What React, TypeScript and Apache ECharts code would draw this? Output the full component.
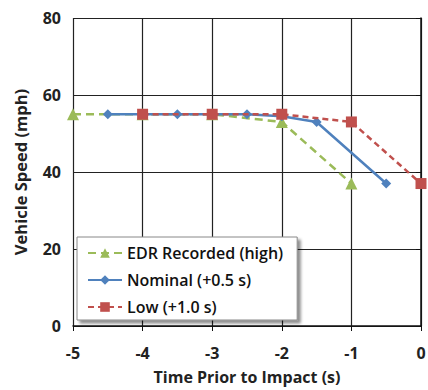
import React, { useEffect, useRef } from "react";
import * as echarts from "echarts";

const edrX = [-5, -4, -3, -2, -1];
const edrY = [55, 55, 55, 53, 37];
const nomX = [-4.5, -4, -3.5, -3, -2.5, -2, -1.5, -0.5];
const nomY = [55, 55, 55, 55, 55, 54.5, 53, 37];
const lowX = [-4, -3, -2, -1, 0];
const lowY = [55, 55, 55, 53, 37];
const xTicks = [-5, -4, -3, -2, -1, 0];
const yTicks = [0, 20, 40, 60, 80];

const zip = (xs: number[], ys: number[]) => xs.map((x, i) => [x, ys[i]]);

export default function App() {
  const ref = useRef<HTMLDivElement>(null);
  useEffect(() => {
    const chart = echarts.init(ref.current!, null, { renderer: "svg" });
    const font = "Open Sans";
    chart.setOption({
      animation: false,
      textStyle: { fontFamily: font },
      grid: { left: 73, right: 7, top: 18, bottom: 64, outerBoundsMode: "none", containLabel: false },
      xAxis: {
        type: "value",
        min: xTicks[0],
        max: xTicks[xTicks.length - 1],
        interval: 1,
        name: "Time Prior to Impact (s)",
        nameLocation: "middle",
        nameGap: 43,
        nameTextStyle: { fontSize: 16, fontWeight: "bold", color: "#222", fontFamily: font },
        axisLine: { lineStyle: { color: "#111", width: 1.5 } },
        axisTick: { show: true, length: 5, lineStyle: { color: "#111" } },
        axisLabel: { fontSize: 16, fontWeight: "bold", color: "#222", margin: 19, fontFamily: font },
        splitLine: { show: true, lineStyle: { color: "#222", width: 1.2 } },
      },
      yAxis: {
        type: "value",
        min: yTicks[0],
        max: yTicks[yTicks.length - 1],
        interval: 20,
        name: "Vehicle Speed (mph)",
        nameLocation: "middle",
        nameGap: 44,
        nameTextStyle: { fontSize: 16.5, fontWeight: "bold", color: "#222", fontFamily: font },
        axisLine: { show: true, lineStyle: { color: "#111", width: 1.5 } },
        axisTick: { show: true, length: 5, lineStyle: { color: "#111" } },
        axisLabel: { fontSize: 16, fontWeight: "bold", color: "#222", margin: 12, fontFamily: font },
        splitLine: { show: true, lineStyle: { color: "#222", width: 1.2 } },
      },
      legend: {
        orient: "vertical",
        left: 77,
        top: 237,
        itemWidth: 34,
        itemHeight: 12,
        itemGap: 11,
        padding: [8, 14, 5, 10],
        backgroundColor: "#fff",
        borderColor: "#888",
        borderWidth: 1,
        shadowBlur: 3,
        shadowColor: "rgba(0,0,0,0.45)",
        shadowOffsetX: 3,
        shadowOffsetY: 3,
        textStyle: { fontSize: 16, fontWeight: 600, color: "#111", fontFamily: font },
        data: ["EDR Recorded (high)", "Nominal (+0.5 s)", "Low (+1.0 s)"],
      },
      series: [
        {
          name: "EDR Recorded (high)",
          type: "line",
          data: zip(edrX, edrY),
          symbol: "triangle",
          symbolSize: 12,
          z: 3,
          lineStyle: { color: "#9BBB59", width: 2.5, type: [8, 5] },
          itemStyle: { color: "#9BBB59" },
        },
        {
          name: "Nominal (+0.5 s)",
          type: "line",
          data: zip(nomX, nomY),
          symbol: "diamond",
          symbolSize: 10,
          z: 4,
          lineStyle: { color: "#4F81BD", width: 2.5 },
          itemStyle: { color: "#4F81BD" },
        },
        {
          name: "Low (+1.0 s)",
          type: "line",
          data: zip(lowX, lowY),
          symbol: "rect",
          symbolSize: 11,
          z: 5,
          lineStyle: { color: "#C0504D", width: 2.5, type: [6, 4] },
          itemStyle: { color: "#C0504D" },
        },
      ],
    });
    return () => chart.dispose();
  }, []);
  return <div ref={ref} style={{ width: 428, height: 390, position: "absolute", left: 0, top: 0 }} />;
}
